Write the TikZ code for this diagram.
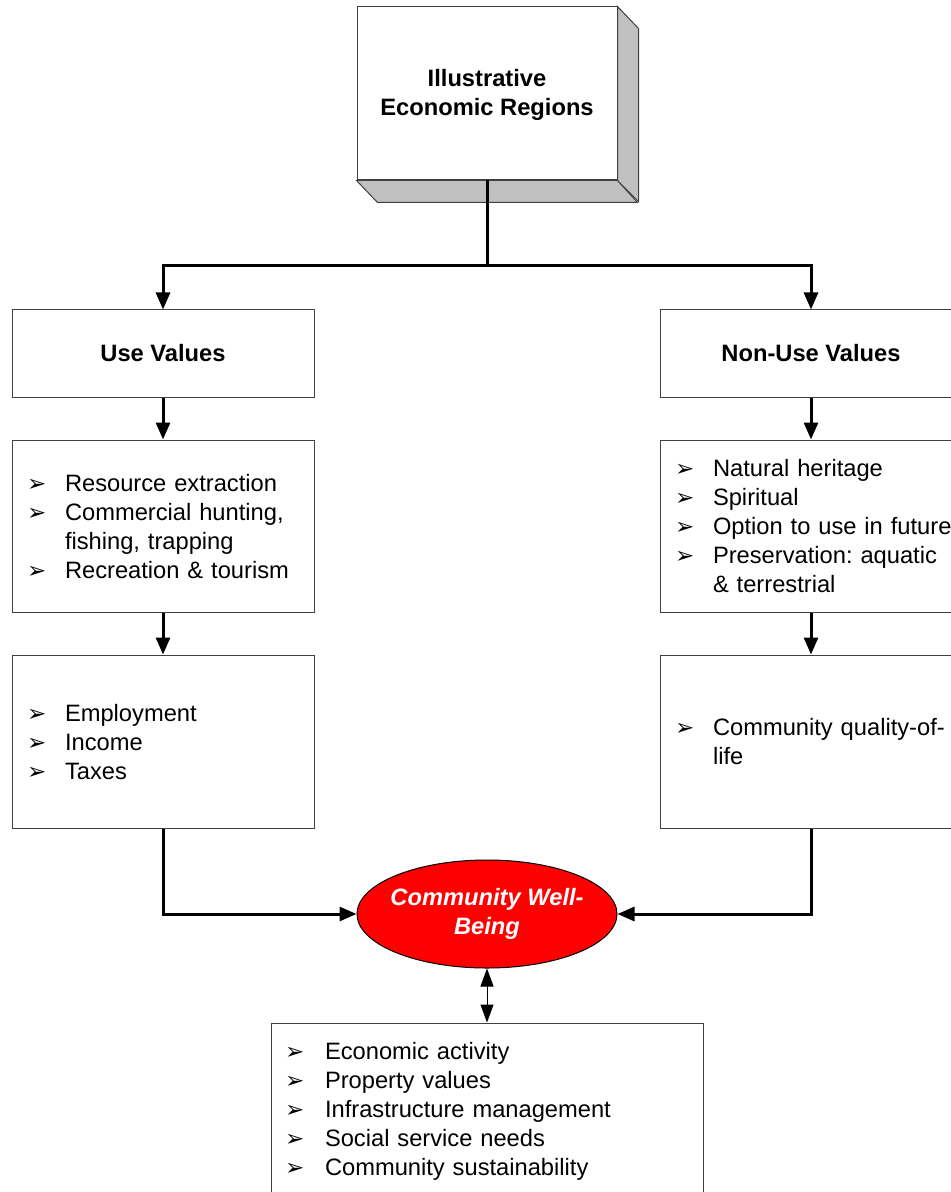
\documentclass[tikz,border=0pt]{standalone}
\usepackage{fontspec}
\setmainfont{Liberation Sans}
\newfontfamily\symfont{DejaVu Sans}
\usetikzlibrary{shapes.geometric}
\usetikzlibrary{arrows.meta}
\usetikzlibrary{calc}
\definecolor{mygray}{HTML}{C0C0C0}
\definecolor{myred}{HTML}{FF0000}
\definecolor{myline}{HTML}{404040}
\newcommand{\bul}{{\symfont\fontsize{11.5}{14.5}\selectfont ➢}}
\newcommand{\down}[2]{\raisebox{-#1}[\height][\depth]{#2}}
\frenchspacing

\begin{document}
\begin{tikzpicture}[x=0.5pt, y=-0.5pt, >={Triangle[length=8.5pt, width=7pt]},
    every node/.style={font=\fontsize{11.85}{14.5}\selectfont},
    box/.style={draw=myline, line width=0.5pt, fill=white, minimum width=151pt,
      inner xsep=0pt, align=center},
    listbox/.style={box, text width=136pt, inner xsep=7.5pt, align=left},
    link/.style={->, line width=1.5pt}]
      \useasboundingbox (0,0) rectangle (951,1192);

      \node [box, minimum width=130pt, minimum height=86.5pt, name=top] at (487,93.5)
      {\down{1pt}{\begin{tabular}{@{}c@{}}
        \textbf{Illustrative}\\\textbf{Economic Regions}
      \end{tabular}}};
      \draw [draw=myline, fill=mygray, line width=0.5pt] (top.north east) -- ++(21,22)
      -- ++(0,173) -- (top.south east) -- cycle;
      \draw [draw=myline, fill=mygray, line width=0.5pt] (top.south west) -- ++(21,22)
      -- ++(260,0) -- (top.south east) -- cycle;

      \node [box, minimum height=43.5pt, name=use] at (163,353.5) {\textbf{Use Values}};
      \node [box, minimum height=43.5pt, name=nonuse] at (811,353.5) {\textbf{Non-Use Values}};

      \node [listbox, minimum height=86pt, name=usel] at (163,526)
      {\down{1.5pt}{\begin{tabular}{@{}p{19pt}@{}l@{}}
        \bul & Resource extraction\\
        \bul & Commercial hunting,\\
             & fishing, trapping\\
        \bul & Recreation \& tourism
      \end{tabular}}};
      \node [listbox, minimum height=86pt, name=nonusel] at (811,526)
      {\down{1.5pt}{\begin{tabular}{@{}p{19pt}@{}l@{}}
        \bul & Natural heritage\\
        \bul & Spiritual\\
        \bul & Option to use in future\\
        \bul & Preservation: aquatic\\
             & \& terrestrial
      \end{tabular}}};

      \node [listbox, minimum height=86.5pt, name=usei] at (163,741.5)
      {\down{1.5pt}{\begin{tabular}{@{}p{19pt}@{}l@{}}
        \bul & Employment\\
        \bul & Income\\
        \bul & Taxes
      \end{tabular}}};
      \node [listbox, minimum height=86.5pt, name=nonusei] at (811,741.5)
      {\down{1.5pt}{\begin{tabular}{@{}p{19pt}@{}l@{}}
        \bul & Community quality-of-\\
             & life
      \end{tabular}}};

      \node [ellipse, draw=black, line width=0.5pt, fill=myred, text=white,
      minimum width=130pt, minimum height=54pt, inner xsep=-6pt, inner ysep=0pt,
      align=center, font=\fontsize{11.85}{14.5}\selectfont\bfseries\itshape, name=cwb]
      at (487,914) {Community Well-\\Being};

      \node [listbox, text width=202pt, inner xsep=7pt, minimum height=86pt, name=impact]
      at (487,1109)
      {\down{1.5pt}{\begin{tabular}{@{}p{20pt}@{}l@{}}
        \bul & Economic activity\\
        \bul & Property values\\
        \bul & Infrastructure management\\
        \bul & Social service needs\\
        \bul & Community sustainability
      \end{tabular}}};

      \coordinate (split) at (487,266);
      \draw [line width=1.5pt] (top.south) -- (split);
      \draw [link] (split) -| (use.north);
      \draw [link] (split) -| (nonuse.north);
      \draw [link] (use.south) -- (usel.north);
      \draw [link] (nonuse.south) -- (nonusel.north);
      \draw [link] (usel.south) -- (usei.north);
      \draw [link] (nonusel.south) -- (nonusei.north);
      \draw [link] (usei.south) |- (cwb.west);
      \draw [link] (nonusei.south) |- (cwb.east);
      \draw [{Triangle[length=9pt, width=6.5pt]}-{Triangle[length=9pt, width=6.5pt]},
      line width=0.5pt] (cwb.south) -- (impact.north);
    \end{tikzpicture}
\end{document}
